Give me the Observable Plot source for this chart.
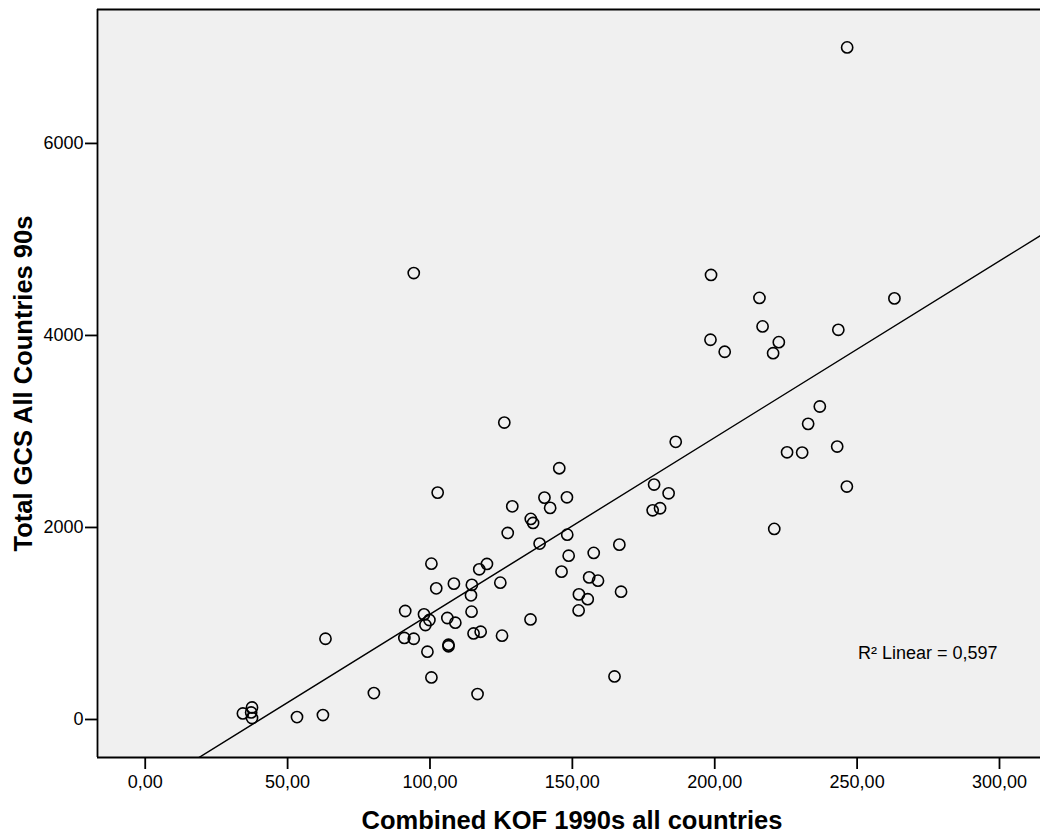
<!DOCTYPE html>
<html>
<head>
<meta charset="utf-8">
<script src="https://cdn.jsdelivr.net/npm/d3@7"></script>
<script src="https://cdn.jsdelivr.net/npm/@observablehq/plot@0.6"></script>
<style>
  html, body { margin: 0; padding: 0; background: #ffffff; }
  #chart svg { display: block; }
</style>
</head>
<body>
<div id="chart"></div>
<script>
// Combined KOF 1990s all countries (x) and Total GCS All Countries 90s (y)
const kof = [
  246.5, 94.3, 198.7, 215.7, 263.1, 216.8, 243.4, 198.5, 203.5, 222.5,
  220.5, 236.9, 232.8, 243.0, 225.4, 230.7, 246.4, 220.9, 126.1, 186.3,
  145.4, 178.7, 183.8, 102.7, 140.2, 148.1, 128.9, 135.4, 136.2, 142.2,
  178.2, 180.8, 127.3, 148.2, 138.5, 166.5, 148.7, 157.5, 100.5, 120.0,
  117.3, 146.2, 155.9, 159.0, 167.1, 108.4, 102.2, 124.7, 114.7, 114.4,
  152.3, 155.4, 152.2, 114.6, 91.3, 97.9, 99.8, 98.4, 106.1, 108.9,
  135.3, 91.0, 94.3, 115.3, 117.8, 125.3, 99.1, 106.5, 106.5, 63.3,
  100.5, 80.3, 116.7, 164.8, 34.3, 37.5, 37.2, 37.5, 53.3, 62.4
];
const gcs = [
  7000, 4650, 4630, 4391, 4386, 4094, 4059, 3955, 3830, 3930,
  3815, 3260, 3079, 2843, 2783, 2780, 2426, 1985, 3093, 2892,
  2617, 2447, 2356, 2363, 2311, 2314, 2220, 2089, 2047, 2204,
  2179, 2200, 1943, 1925, 1832, 1821, 1706, 1735, 1623, 1620,
  1564, 1540, 1480, 1446, 1331, 1415, 1366, 1425, 1402, 1293,
  1303, 1253, 1136, 1123, 1130, 1095, 1036, 984, 1057, 1008,
  1042, 849, 841, 896, 914, 873, 706, 779, 763, 841,
  438, 275, 265, 448, 63, 125, 73, 15, 25, 46
];
const xTicks = [0, 50, 100, 150, 200, 250, 300];
const yTicks = [0, 2000, 4000, 6000];
const xDomain = [-16.76, 314.4];
const yDomain = [-396, 7395];
const xTitle = "Combined KOF 1990s all countries";
const yTitle = "Total GCS All Countries 90s";
const fitLabel = "R\u00B2 Linear = 0,597";

const points = kof.map((x, i) => ({x, y: gcs[i]}));

// least-squares fit computed from the data
const mx = d3.mean(kof), my = d3.mean(gcs);
let sxy = 0, sxx = 0;
kof.forEach((x, i) => { sxy += (x - mx) * (gcs[i] - my); sxx += (x - mx) * (x - mx); });
const slope = sxy / sxx, intercept = my - slope * mx;
const fit = xDomain.map(x => ({x, y: intercept + slope * x}));

const fmtX = d => d3.format(".2f")(d).replace(".", ",");
const font = "Arial, 'Liberation Sans', sans-serif";

const chart = Plot.plot({
  width: 1040,
  height: 836,
  marginLeft: 97,
  marginRight: 0,
  marginTop: 9,
  marginBottom: 79,
  style: {fontFamily: font, fontSize: "18px", background: "#ffffff", color: "#000"},
  x: {domain: xDomain, label: null},
  y: {domain: yDomain, label: null},
  marks: [
    Plot.frame({fill: "#f0f0f0", stroke: null}),
    Plot.line(fit, {x: "x", y: "y", stroke: "#000", strokeWidth: 1.4, clip: true}),
    Plot.dot(points, {x: "x", y: "y", r: 5.6, stroke: "#000", strokeWidth: 1.6, fill: "none"}),
    Plot.ruleX([xDomain[0]], {stroke: "#000", strokeWidth: 1.8}),
    Plot.ruleY([yDomain[0]], {stroke: "#000", strokeWidth: 1.8}),
    Plot.ruleY([yDomain[1]], {stroke: "#000", strokeWidth: 1.8}),
    Plot.axisX({ticks: xTicks, tickFormat: fmtX, tickSize: 12, tickPadding: 6, strokeWidth: 1.8, fontSize: 18, label: null}),
    Plot.axisY({ticks: yTicks, tickFormat: d => String(d), tickSize: 12, tickPadding: 2, strokeWidth: 1.8, fontSize: 18, label: null}),
    Plot.text([xTitle], {text: d => d, frameAnchor: "bottom", dy: 63, dx: 3, fontSize: 25.5, fontWeight: "bold", lineAnchor: "middle", fill: "#000"}),
    Plot.text([yTitle], {text: d => d, frameAnchor: "left", textAnchor: "middle", dx: -74, rotate: -90, fontSize: 25.5, fontWeight: "bold", lineAnchor: "middle", fill: "#000"}),
    Plot.text([fitLabel], {text: d => d, frameAnchor: "bottom-right", textAnchor: "end", dx: -43, dy: -104, fontSize: 18, lineAnchor: "middle", fill: "#000"})
  ]
});
document.getElementById("chart").appendChild(chart);
</script>
</body>
</html>
